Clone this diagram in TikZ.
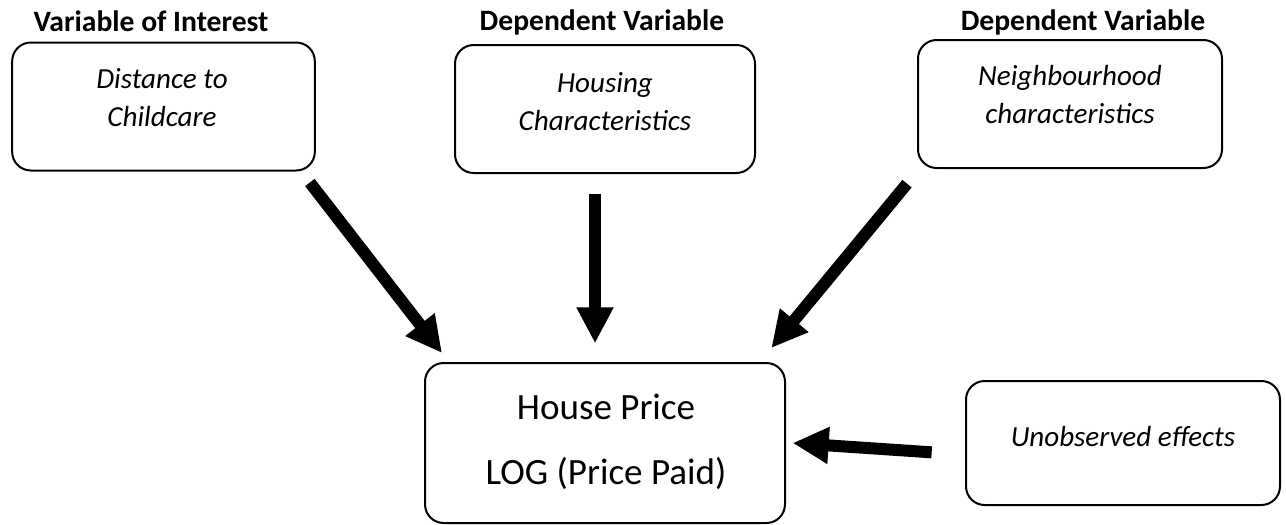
\documentclass[tikz,border=0pt]{standalone}
\usepackage{fontspec}
\setmainfont{Carlito}
\usetikzlibrary{positioning,arrows.meta}

\begin{document}
\begin{tikzpicture}[
  x=0.75pt, y=-0.75pt,
  box/.style={draw, rounded corners=14pt, line width=1.5pt, inner sep=0pt},
  vartext/.style={font=\fontsize{21.8}{28.5}\selectfont\itshape, align=center},
  heading/.style={font=\fontsize{22.2}{26}\selectfont\bfseries},
  outcome/.style={font=\fontsize{27.8}{49}\selectfont, align=center},
  flow/.style={-{Triangle[width=26pt, length=27pt]}, line width=9pt},
]
  \useasboundingbox (0,0) rectangle (1286,525);

  % the three groups of variables
  \node[box, minimum width=227pt, minimum height=96pt] (dist) at (163.5,106.5) {};
  \node[box, minimum width=225pt, minimum height=96pt] (house) at (605,109) {};
  \node[box, minimum width=228pt, minimum height=96pt] (neigh) at (1070,104) {};

  \node[heading] (interest) at (151,21) {Variable of Interest};
  \node[heading] (dephouse) at (602,22) {Dependent Variable};
  \node[heading] (depneigh) at (1083,22) {Dependent Variable};

  \node[vartext] (disttext) at (162,98) {Distance to\\Childcare};
  \node[vartext] (housetext) at (605,102) {Housing\\Characteristics};
  \node[vartext] (neightext) at (1070,95) {Neighbourhood\\characteristics};

  % outcome and error term
  \node[box, minimum width=270pt, minimum height=120pt] (price) at (605,443) {};
  \node[outcome] (pricetext) at (606,442) {House Price\\LOG (Price Paid)};
  \node[box, minimum width=235.5pt, minimum height=93pt, vartext] (unobs) at (1123,443)
    {\raisebox{10pt}{Unobserved effects}};

  \draw[flow] ([xshift=-4.5pt, yshift=-8.25pt]dist.south east)
    -- ([xshift=13.5pt, yshift=6.75pt]price.north west);
  \draw[flow] ([xshift=-7.5pt, yshift=-15pt]house.south)
    -- ([xshift=-7.5pt, yshift=14pt]price.north);
  \draw[flow] ([xshift=-7.5pt, yshift=-11pt]neigh.south west)
    -- ([xshift=-11pt, yshift=10.5pt]price.north east);
  \draw[flow] ([xshift=-25pt, yshift=-7pt]unobs.west)
    -- ([xshift=5pt]price.east);
\end{tikzpicture}
\end{document}
